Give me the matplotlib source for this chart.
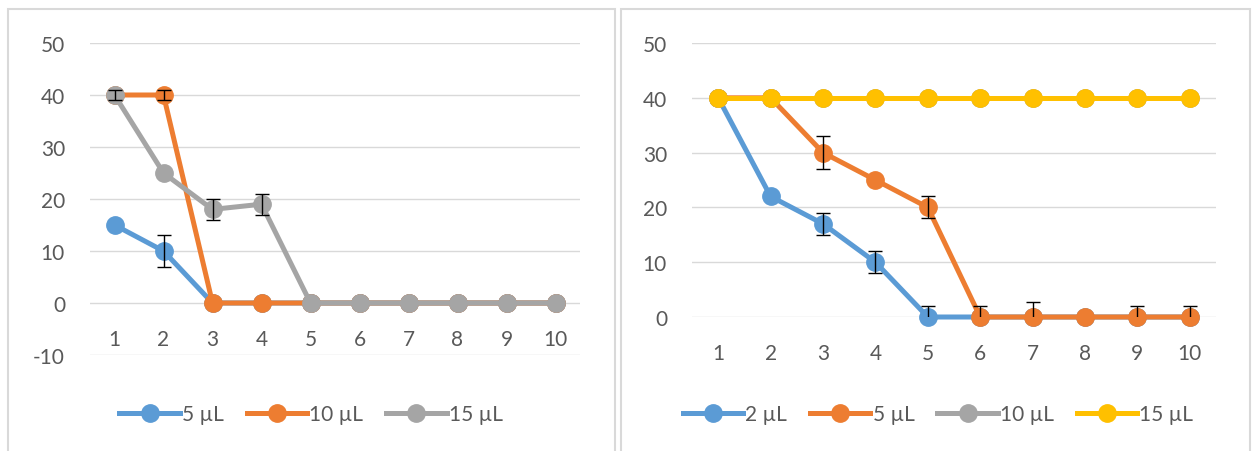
import matplotlib.pyplot as plt
import numpy as np
from matplotlib.patches import Rectangle

# categorias (dias)
dias = list(range(1, 11))

# painel esquerdo
esq_5 = [15, 10, 0, 0, 0, 0, 0, 0, 0, 0]
esq_5_err = [0, 3, 0, 0, 0, 0, 0, 0, 0, 0]
esq_10 = [40, 40, 0, 0, 0, 0, 0, 0, 0, 0]
esq_10_err = [0, 1, 0, 0, 0, 0, 0, 0, 0, 0]
esq_15 = [40, 25, 18, 19, 0, 0, 0, 0, 0, 0]
esq_15_err = [1, 0, 2, 2, 0, 0, 0, 0, 0, 0]

# painel direito
dir_2 = [40, 22, 17, 10, 0, 0, 0, 0, 0, 0]
dir_2_err = [0, 0, 2, 2, 2, 0, 0, 0, 0, 0]
dir_5 = [40, 40, 30, 25, 20, 0, 0, 0, 0, 0]
dir_5_err = [0, 0, 3, 0, 2, 2, 2.7, 0, 2, 2]
dir_10 = [40, 40, 40, 40, 40, 40, 40, 40, 40, 40]
dir_15 = [40, 40, 40, 40, 40, 40, 40, 40, 40, 40]

AZUL = '#5B9BD5'
LARANJA = '#ED7D31'
CINZA = '#A5A5A5'
AMARELO = '#FFC000'
TEXTO = '#595959'

plt.rcParams['font.family'] = ['Lato', 'DejaVu Sans']
plt.rcParams['axes.unicode_minus'] = False

fig = plt.figure(figsize=(12.54, 4.52), dpi=100)

# molduras dos dois gráficos
W, H = 1254, 452
for x0, x1 in [(8, 615), (621, 1250)]:
    fig.patches.append(Rectangle((x0 / W, -0.05), (x1 - x0) / W, 1 - 10 / H + 0.05,
                                 transform=fig.transFigure, fill=False,
                                 edgecolor='#D9D9D9', lw=1.5))


def serie(ax, y, err, cor, rotulo):
    ax.plot(dias, y, color=cor, lw=3.6, marker='o', ms=12.5, label=rotulo,
            clip_on=False, zorder=3)
    if err is not None:
        err = np.array(err)
        m = err > 0
        ax.errorbar(np.array(dias)[m], np.array(y)[m], yerr=err[m], fmt='none',
                    ecolor='black', elinewidth=1, capsize=5, capthick=1, zorder=4)


def eixo(ax, ymin):
    ax.set_xlim(0.5, 10.5)
    ax.set_ylim(ymin, 50)
    ax.set_yticks(range(ymin, 51, 10))
    ax.set_xticks(dias)
    ax.grid(axis='y', color='#D9D9D9', lw=1)
    ax.set_axisbelow(True)
    for s in ax.spines.values():
        s.set_visible(False)
    ax.spines['bottom'].set_position(('data', 0))
    ax.tick_params(axis='x', length=0, pad=19, labelsize=15, labelcolor=TEXTO)
    ax.tick_params(axis='y', length=0, pad=18, labelsize=15, labelcolor=TEXTO)


ax1 = fig.add_axes([90 / W, 1 - 356 / H, 490 / W, 312 / H])
serie(ax1, esq_5, esq_5_err, AZUL, '5 µL')
serie(ax1, esq_10, esq_10_err, LARANJA, '10 µL')
serie(ax1, esq_15, esq_15_err, CINZA, '15 µL')
eixo(ax1, -10)

ax2 = fig.add_axes([692 / W, 1 - 318 / H, 524 / W, 274 / H])
serie(ax2, dir_2, dir_2_err, AZUL, '2 µL')
serie(ax2, dir_5, dir_5_err, LARANJA, '5 µL')
serie(ax2, dir_10, None, CINZA, '10 µL')
serie(ax2, dir_15, None, AMARELO, '15 µL')
eixo(ax2, 0)

for ax, cx, n in [(ax1, 311, 3), (ax2, 938, 4)]:
    h, l = ax.get_legend_handles_labels()
    fig.legend(h, l, loc='center', bbox_to_anchor=(cx / W, 1 - 415 / H), ncol=n,
               frameon=False, fontsize=15, handlelength=2.9, handletextpad=0.1,
               columnspacing=1.1, labelcolor=TEXTO, borderaxespad=0)

fig.savefig('out.png', dpi=100)
